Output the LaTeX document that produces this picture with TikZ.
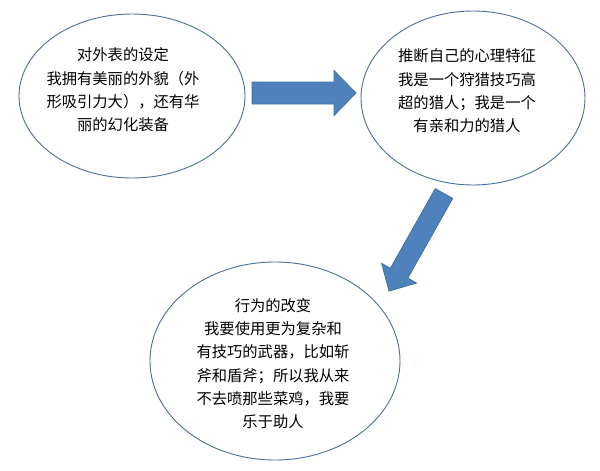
\documentclass[tikz,border=0pt]{standalone}
\usepackage{fontspec}
\newfontfamily\cjk{Noto Sans CJK SC}
\usetikzlibrary{shapes.geometric}
\definecolor{rimblue}{RGB}{74,110,160}
\definecolor{arrowfill}{RGB}{79,129,189}
\definecolor{arrowrim}{RGB}{65,113,156}
\tikzset{
	bubble/.style={ellipse, draw=rimblue, line width=0.9pt, fill=white, inner sep=0pt},
	words/.style={align=center, inner sep=0pt, font=\cjk\fontsize{15.3}{23.3}\selectfont},
	blockarrow/.style={draw=arrowrim, fill=arrowfill, line width=0.8pt, line join=miter}
}
\begin{document}
\begin{tikzpicture}[x=1pt,y=1pt]
		\useasboundingbox (0,0) rectangle (600,-471);
		% the three bubbles
		\node[bubble, minimum width=226, minimum height=164] (looks) at (132,-96) {};
		\node[words] (lookstext) at (123,-90) {对外表的设定\\我拥有美丽的外貌（外\\形吸引力大），还有华\\丽的幻化装备};
		\node[bubble, minimum width=224, minimum height=174] (mind) at (473,-98) {};
		\node[words] (mindtext) at (467,-91) {推断自己的心理特征\\我是一个狩猎技巧高\\超的猎人；我是一个\\有亲和力的猎人};
		\node[bubble, minimum width=250, minimum height=198] (deeds) at (275,-361) {};
		\node[words] (deedstext) at (273,-363.5) {行为的改变\\我要使用更为复杂和\\有技巧的武器，比如斩\\斧和盾斧；所以我从来\\不去喷那些菜鸡，我要\\乐于助人};
		% block arrows
		\coordinate (rtail) at (252,-93);
		\coordinate (rtip) at (356,-93);
		\draw[blockarrow] (rtail) ++(0,11) -- ++(82,0) -- ++(0,11.5) -- (rtip)
				-- ++(-22,-22.5) -- ++(0,11.5) -- ++(-82,0) -- cycle;
		\coordinate (dtail) at (444,-193.5);
		\draw[blockarrow, shift={(dtail)}, rotate=-119.4]
				(0,10) -- (91.5,10) -- (91.5,20) -- (112,0) -- (91.5,-20) -- (91.5,-10) -- (0,-10) -- cycle;
\end{tikzpicture}
\end{document}
